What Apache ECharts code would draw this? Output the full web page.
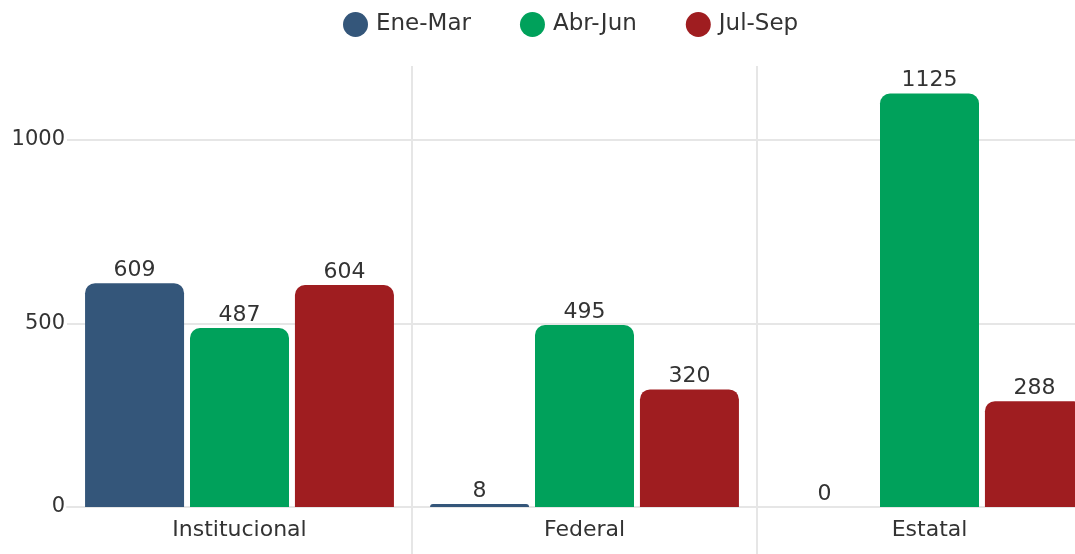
<!DOCTYPE html>
<html>
<head>
<meta charset="utf-8">
<script src="https://cdn.jsdelivr.net/npm/echarts@6/dist/echarts.min.js"></script>
<style>
  html, body { margin: 0; padding: 0; background: #fff; overflow: hidden; }
  #chart { width: 1102px; height: 554px; }
</style>
</head>
<body>
<div id="chart"></div>
<script>
// Quarterly totals by category
const categories = ['Institucional', 'Federal', 'Estatal'];
const seriesNames = ['Ene-Mar', 'Abr-Jun', 'Jul-Sep'];
const eneMar = [609, 8, 0];
const abrJun = [487, 495, 1125];
const julSep = [604, 320, 288];
const colors = ['#34567a', '#00a15b', '#9f1d20'];

const FONT = '"DejaVu Sans", sans-serif';
const GRID_COLOR = '#e6e6e6';

const chart = echarts.init(document.getElementById('chart'));

const makeSeries = (name, data, color) => ({
  name,
  type: 'bar',
  data,
  barWidth: 99,
  barGap: '6%',
  itemStyle: { color, borderRadius: [10, 10, 0, 0] },
  label: {
    show: true,
    position: 'top',
    distance: 2,
    color: '#333',
    fontSize: 22,
    fontFamily: FONT
  }
});

chart.setOption({
  animation: false,
  color: colors,
  textStyle: { fontFamily: FONT },
  legend: {
    top: 7,
    left: 338,
    icon: 'circle',
    itemWidth: 25,
    itemHeight: 25,
    itemGap: 49,
    textStyle: { fontSize: 23, color: '#333', fontFamily: FONT, padding: [0, 0, 0, 3] },
    data: seriesNames
  },
  grid: {
    left: 67,
    top: 66,
    right: 0,
    bottom: 47,
    containLabel: false
  },
  xAxis: {
    type: 'category',
    data: categories,
    axisLine: { show: true, lineStyle: { color: GRID_COLOR, width: 2 } },
    axisTick: {
      show: true,
      length: 50,
      interval: (i) => i > 0,
      lineStyle: { color: GRID_COLOR, width: 2 }
    },
    splitLine: {
      show: true,
      interval: (i) => i > 0,
      lineStyle: { color: GRID_COLOR, width: 2 }
    },
    axisLabel: { fontSize: 22, color: '#333', margin: 12, fontFamily: FONT }
  },
  yAxis: {
    type: 'value',
    min: 0,
    max: 1200,
    interval: 500,
    axisLine: { show: false },
    axisTick: { show: false },
    axisLabel: {
      fontSize: 21, color: '#333', margin: 2, fontFamily: FONT, showMaxLabel: false,
      formatter: (v) => String(v)
    },
    splitLine: { show: true, showMaxLine: false, lineStyle: { color: GRID_COLOR, width: 2 } }
  },
  series: [
    makeSeries(seriesNames[0], eneMar, colors[0]),
    makeSeries(seriesNames[1], abrJun, colors[1]),
    makeSeries(seriesNames[2], julSep, colors[2])
  ]
});
</script>
</body>
</html>
